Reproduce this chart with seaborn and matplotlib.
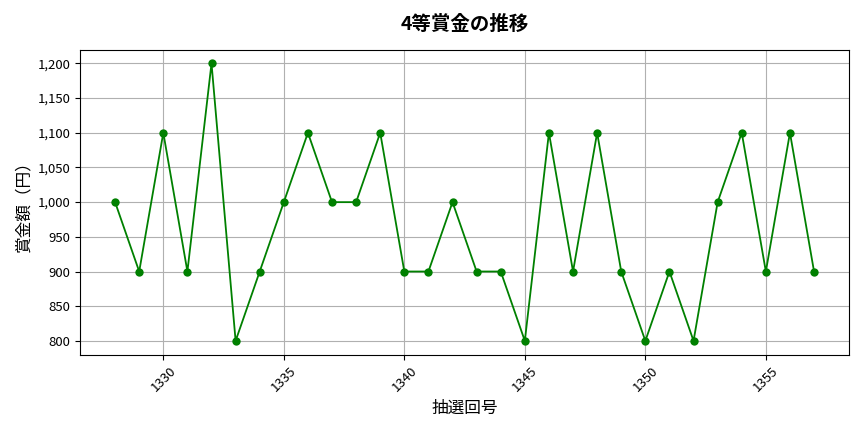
import matplotlib
matplotlib.use("Agg")
import matplotlib.pyplot as plt
import matplotlib.ticker as mticker
import pandas as pd
import seaborn as sns

draws = list(range(1328, 1358))
prize = [1000, 900, 1100, 900, 1200, 800, 900, 1000, 1100, 1000,
         1000, 1100, 900, 900, 1000, 900, 900, 800, 1100, 900,
         1100, 900, 800, 900, 800, 1000, 1100, 900, 1100, 900]

df = pd.DataFrame({"draw": draws, "prize": prize})

sns.set_style("white")
plt.rcParams["font.family"] = ["Noto Sans CJK JP", "DejaVu Sans"]
plt.rcParams["text.color"] = "black"
plt.rcParams["axes.labelcolor"] = "black"
plt.rcParams["xtick.color"] = "black"
plt.rcParams["ytick.color"] = "black"

fig, ax = plt.subplots(figsize=(8.64, 4.32), dpi=100)
sns.lineplot(data=df, x="draw", y="prize", color="green", marker="o",
             markersize=6, markeredgewidth=0, linewidth=1.3, ax=ax)

ax.set_title("4等賞金の推移", fontsize=14, fontweight="bold", pad=14)
ax.set_xlabel("抽選回号", fontsize=12)
ax.set_ylabel("賞金額（円）", fontsize=12)
ax.yaxis.set_major_formatter(mticker.StrMethodFormatter("{x:,.0f}"))
ax.xaxis.set_major_locator(mticker.MultipleLocator(5))
ax.set_ylim(780, 1220)
ax.grid(True, color="#b0b0b0", linewidth=0.8)
for lab in ax.get_xticklabels():
    lab.set_rotation(45)
for sp in ax.spines.values():
    sp.set_color("black")
    sp.set_linewidth(0.8)
ax.tick_params(axis="both", labelsize=9.5, length=3.5, width=0.8, color="black", left=True, bottom=True)

plt.tight_layout()
fig.savefig("out.png", dpi=100)
